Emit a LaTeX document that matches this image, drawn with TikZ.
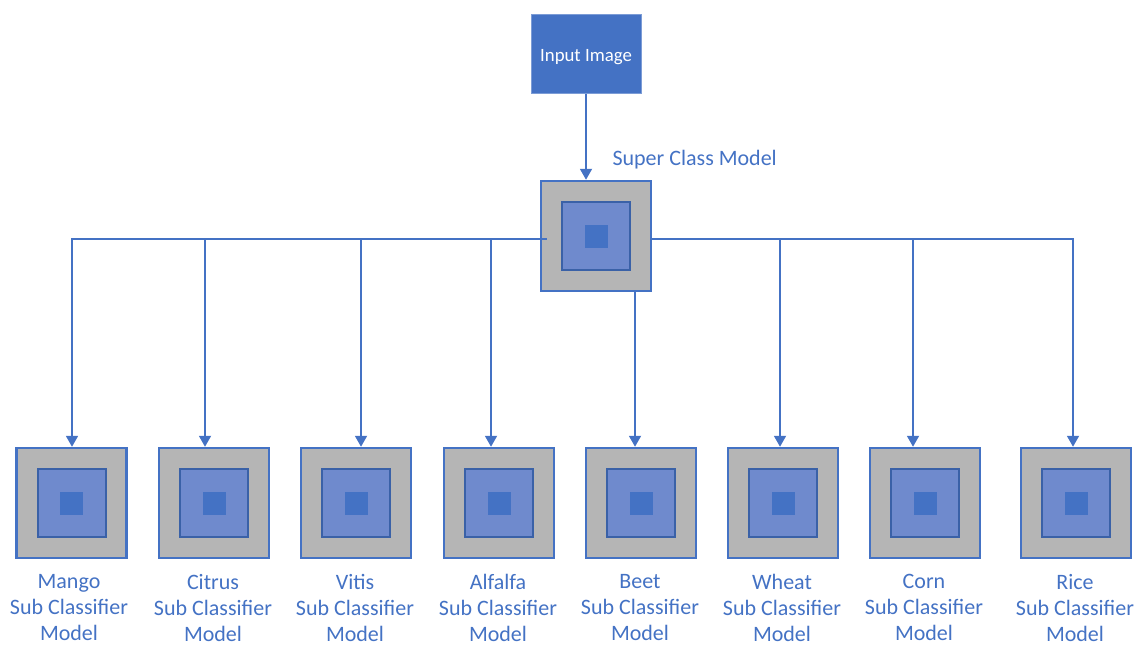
\documentclass[tikz,border=0pt]{standalone}
\usepackage{fontspec}
\setmainfont{Carlito}
\usetikzlibrary{arrows.meta}

\definecolor{mblue}{HTML}{4472C4}
\definecolor{mlight}{HTML}{6F8ACD}
\definecolor{mgray}{HTML}{B5B5B5}

\tikzset{
  outerbox/.style={draw=mblue, line width=2.5pt, fill=mgray, minimum size=110pt, inner sep=0pt},
  innerbox/.style={draw=mblue!85!black, line width=2pt, fill=mlight, minimum size=68pt, inner sep=0pt},
  corebox/.style={fill=mblue, minimum size=23pt, inner sep=0pt},
  conn/.style={draw=mblue, line width=1.8pt},
  arr/.style={conn, -{Triangle[width=12pt,length=11pt]}},
  caption/.style={text=mblue, font=\fontsize{22}{26}\selectfont, align=center, anchor=north},
}

\begin{document}
\begin{tikzpicture}[x=1pt,y=-1pt]
\useasboundingbox (0,0) rectangle (1139,646);

% input box
\node[draw=mblue!70, line width=1pt, fill=mblue, minimum width=110pt, minimum height=79pt,
      text=white, text height=19pt, text depth=4pt, font=\fontsize{18.8}{22}\selectfont] (input) at (586,53.5) {Input Image};

% super class model
\node[outerbox] (super) at (596,236) {};
\node[innerbox] (superin) at (596,236) {};
\node[corebox] (supercore) at (596,236) {};
\node[text=mblue, font=\fontsize{22}{26}\selectfont, anchor=west] (superlbl) at (609,160) {Super Class Model};

\draw[arr] (input.south) -- (input.south |- super.north);

% sub classifier models
\foreach \n/\x/\lx/\name in {m1/71.5/69/Mango, m2/214/213/Citrus, m3/356/355/Vitis, m4/499/498/Alfalfa,
                             m5/641/640/Beet, m6/783/782/Wheat, m7/925/924/Corn, m8/1076/1075/Rice}{
  \node[outerbox] (\n) at (\x,503) {};
  \node[innerbox] (\n in) at (\x,503) {};
  \node[corebox] (\n core) at (\x,503) {};
  \node[caption] (\n lbl) at (\lx,571) {\name\\Sub Classifier\\Model};
}

% bus from the super class model
\coordinate (busL) at ([xshift=7pt]super.west |- 0,239);
\coordinate (busR) at (super.east |- 0,239);
\draw[arr] (busL) -| ([xshift=0.5pt]m1.north);
\draw[arr] (busL) -| ([xshift=-9pt]m2.north);
\draw[arr] (busL) -| ([xshift=5pt]m3.north);
\draw[arr] (busL) -| ([xshift=-8pt]m4.north);
\draw[arr] ([xshift=39pt]super.south) -- ([xshift=-6pt]m5.north);
\draw[arr] (busR) -| ([xshift=-3pt]m6.north);
\draw[arr] (busR) -| ([xshift=-12pt]m7.north);
\draw[arr] (busR) -| ([xshift=-3pt]m8.north);
\end{tikzpicture}
\end{document}
